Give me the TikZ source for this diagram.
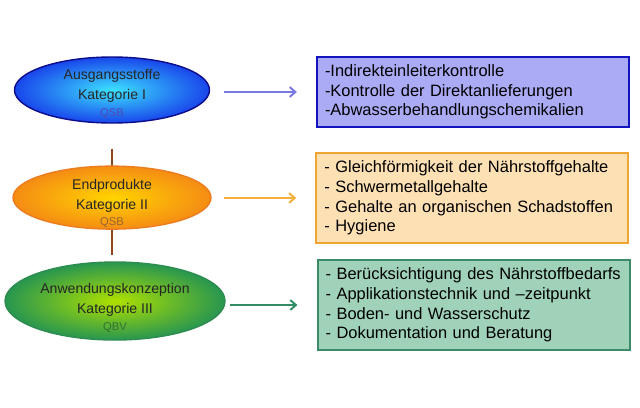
\documentclass[tikz,border=0pt]{standalone}
\usepackage{fontspec}
\setmainfont{Liberation Sans}
\usetikzlibrary{arrows.meta,shapes.geometric}
\hyphenpenalty=10000
\exhyphenpenalty=10000

\definecolor{blauRand}{RGB}{12,12,140}
\definecolor{blauInnen}{RGB}{60,225,255}
\definecolor{blauAussen}{RGB}{25,70,235}
\definecolor{orangeRand}{RGB}{235,125,30}
\definecolor{orangeInnen}{RGB}{255,212,0}
\definecolor{orangeAussen}{RGB}{245,140,20}
\definecolor{gruenRand}{RGB}{45,140,80}
\definecolor{gruenInnen}{RGB}{175,225,0}
\definecolor{gruenAussen}{RGB}{40,150,80}
\definecolor{box1Fill}{RGB}{170,170,245}
\definecolor{box1Rand}{RGB}{20,20,190}
\definecolor{box2Fill}{RGB}{253,224,180}
\definecolor{box2Rand}{RGB}{240,165,50}
\definecolor{box3Fill}{RGB}{160,210,185}
\definecolor{box3Rand}{RGB}{60,140,105}
\definecolor{pfeil1}{RGB}{120,120,225}
\definecolor{pfeil2}{RGB}{245,175,60}
\definecolor{pfeil3}{RGB}{50,140,100}
\definecolor{linieBraun}{RGB}{140,70,30}

\begin{document}
\begin{tikzpicture}[
    >={Straight Barb[length=4pt,width=7pt]},
    kat/.style={ellipse, draw, line width=1pt, inner sep=0pt},
    kattext/.style={align=center, inner sep=0pt, text=black!85, font=\fontsize{10}{14.2}\selectfont},
    liste/.style={draw, line width=1.4pt, text width=7.4cm, inner xsep=0.2cm, align=left, font=\fontsize{11.7}{14}\selectfont},
    pfeil/.style={->, line width=1.4pt, shorten >=0.48cm}
]
    \useasboundingbox[fill=white] (0,0) rectangle (16,-10.175);

    \node[kat, draw=blauRand, inner color=blauInnen, outer color=blauAussen, minimum width=4.875cm, minimum height=1.65cm] (ausgang) at (2.8,-2.25) {};
    \node[kat, draw=gruenRand, inner color=gruenInnen, outer color=gruenAussen, minimum width=5.5cm, minimum height=1.95cm] (anwend) at (2.875,-7.525) {};
    \draw[linieBraun, line width=1.2pt, shorten <=0.625cm, shorten >=0.17cm] (ausgang.south) -- (ausgang.south |- anwend.north);
    \node[kat, draw=orangeRand, inner color=orangeInnen, outer color=orangeAussen, minimum width=4.95cm, minimum height=1.575cm] (endprod) at (2.8,-4.94) {};

    \node[kattext] (ausgangText) at ([yshift=-2.6pt]ausgang.center) {Ausgangsstoffe\\Kategorie I\\[-2pt]{\fontsize{8}{9}\selectfont\color{blue!40!gray}QSB}};
    \node[kattext] (endprodText) at ([yshift=-4pt]endprod.center) {Endprodukte\\Kategorie II\\[-3pt]{\fontsize{8}{9}\selectfont\color{brown!80!black}QSB}};
    \node[kattext] (anwendText) at ([yshift=-4.8pt]anwend.center) {Anwendungskonzeption\\Kategorie III\\[-2pt]{\fontsize{8}{9}\selectfont\color{black!60!green!60!gray}QBV}};

    \node[liste, draw=box1Rand, fill=box1Fill, minimum height=1.75cm] (box1) at (11.825,-2.3) {-Indirekteinleiterkontrolle\\-Kontrolle der Direktanlieferungen\\-Abwasserbehandlungschemikalien};
    \node[liste, draw=box2Rand, fill=box2Fill, minimum height=2.25cm] (box2) at (11.81,-4.95) {- Gleichförmigkeit der Nährstoffgehalte\\- Schwermetallgehalte\\- Gehalte an organischen Schadstoffen\\- Hygiene};
    \node[liste, draw=box3Rand, fill=box3Fill, minimum height=2.25cm] (box3) at (11.84,-7.625) {- Berücksichtigung des Nährstoffbedarfs\\- Applikationstechnik und –zeitpunkt\\- Boden- und Wasserschutz\\- Dokumentation und Beratung};

    \draw[pfeil, pfeil1, shorten <=0.35cm] (ausgang.east |- box1.west) -- (box1.west);
    \draw[pfeil, pfeil2, shorten <=0.3cm] (endprod.east |- box2.west) -- (box2.west);
    \draw[pfeil, pfeil3, shorten <=0.1cm] (anwend.east |- box3.west) -- (box3.west);
\end{tikzpicture}
\end{document}
